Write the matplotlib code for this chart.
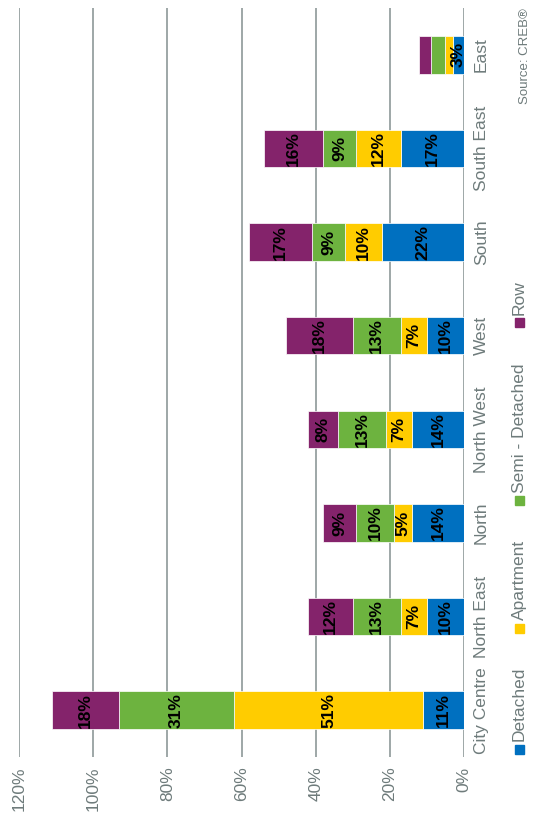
import matplotlib
matplotlib.use("Agg")
import matplotlib.pyplot as plt
from matplotlib.patches import Rectangle

plt.rcParams['font.family'] = ['Liberation Sans', 'DejaVu Sans']

categories = ["City Centre", "North East", "North", "North West", "West", "South", "South East", "East"]
detached = [11, 10, 14, 14, 10, 22, 17, 3]
apartment = [51, 7, 5, 7, 7, 10, 12, 2]
semi_detached = [31, 13, 10, 13, 13, 9, 9, 4]
row = [18, 12, 9, 8, 18, 17, 16, 3]
series_names = ["Detached", "Apartment", "Semi - Detached", "Row"]
series_colors = ["#0070C0", "#FFCC00", "#6DB33F", "#84236B"]
value_ticks = [0, 20, 40, 60, 80, 100, 120]
source_text = "Source: CREB®"

W, H = 536, 822
fig = plt.figure(figsize=(W / 100, H / 100), dpi=100)
ax = fig.add_axes([19 / W, (H - 757) / H, 445 / W, 749 / H])

txt_color = "#6E7B7B"
grid_color = "#8E9898"

series = [detached, apartment, semi_detached, row]
ypos = list(range(len(categories)))
left = [0] * len(categories)
for name, vals, col in zip(series_names, series, series_colors):
    ax.barh(ypos, vals, left=left, height=0.4, color=col, edgecolor="white",
            linewidth=0.5, zorder=3)
    for i, v in enumerate(vals):
        if v >= 5 or name == "Detached":
            ax.text(left[i] + v / 2, i, f"{v}%", rotation=90, ha="center", va="center",
                    fontsize=12.5, fontweight="bold", color="black", zorder=4)
    left = [l + v for l, v in zip(left, vals)]

ax.set_xlim(120, 0)
ax.set_ylim(-0.5, len(categories) - 0.5)
ax.set_xticks(value_ticks)
ax.set_xticklabels([f"{t}%" for t in value_ticks], rotation=90, fontsize=12.5, color=txt_color)
ax.tick_params(axis="x", length=0, pad=7)
ax.yaxis.tick_right()
ax.set_yticks(ypos)
ax.set_yticklabels(categories, rotation=90, va="center", ha="left", fontsize=12.5, color=txt_color)
ax.tick_params(axis="y", length=0, pad=7)
for s in ax.spines.values():
    s.set_visible(False)
ax.grid(axis="x", color=grid_color, linewidth=1.2, zorder=1)
ax.set_axisbelow(True)

# legend (rotated, manual)
leg_marker_y = [749, 628, 501, 323]
for name, col, my in zip(series_names, series_colors, leg_marker_y):
    fig.add_artist(Rectangle(((515) / W, (H - my - 4.5) / H), 9 / W, 9 / H,
                             transform=fig.transFigure, color=col))
    fig.text(519 / W, (H - my + 8) / H, name, rotation=90, ha="center", va="bottom",
             fontsize=12.5, color=txt_color)

fig.text(525 / W, (H - 104) / H, source_text, rotation=90, ha="center", va="bottom",
         fontsize=9.5, color=txt_color)

fig.savefig("out.png", dpi=100)
